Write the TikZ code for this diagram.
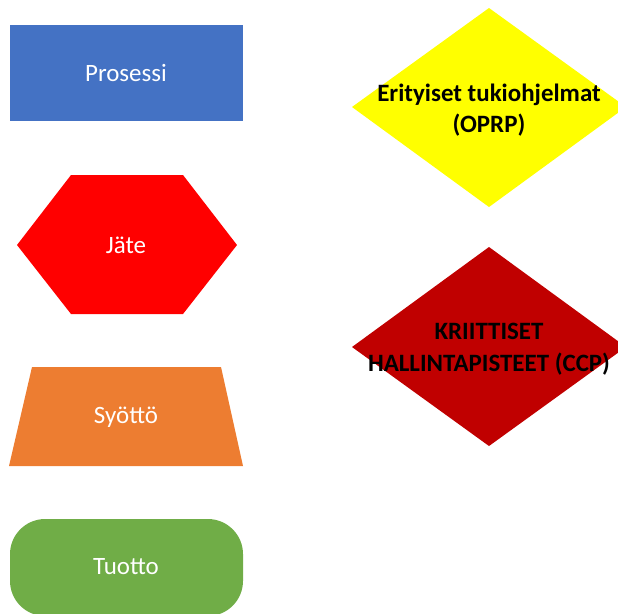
\documentclass[tikz,border=0pt]{standalone}
\usepackage{fontspec}
\setmainfont{Carlito}
\definecolor{prosblue}{HTML}{4472C4}
\definecolor{jatered}{HTML}{FF0000}
\definecolor{syotorange}{HTML}{ED7D31}
\definecolor{tuotgreen}{HTML}{70AD47}
\definecolor{oprpyellow}{HTML}{FFFF00}
\definecolor{ccpred}{HTML}{C00000}
\begin{document}
\begin{tikzpicture}[
        x=0.02cm, y=-0.02cm,
        label/.style={
            font=\fontsize{14.2}{18}\selectfont,
            text=white,
            align=center,
            inner sep=0pt
        },
        boldlabel/.style={
            label,
            text=black,
            font=\fontsize{14.2}{18}\selectfont\bfseries
        }
    ]
    \useasboundingbox (0,0) rectangle (618,613);
    \clip (0,0) rectangle (618,613);

    % Left column shapes
    \fill[prosblue] (10,25) rectangle (243,121);
    \fill[jatered] (17,245) -- (71,175) -- (183,175) -- (237,245) -- (183,314) -- (71,314) -- cycle;
    \fill[syotorange] (32,367) -- (221,367) -- (243,466) -- (9,466) -- cycle;
    \fill[tuotgreen, rounded corners=20] (10,519) rectangle (243,616);

    % Right column diamonds
    \fill[oprpyellow] (489,8) -- (626,107) -- (489,207) -- (352,107) -- cycle;
    \fill[ccpred] (489,247) -- (626,347) -- (489,446) -- (352,347) -- cycle;

    % Labels
    \node[label] (prosessi) at (126,73) {Prosessi};
    \node[label] (jate) at (126,245) {Jäte};
    \node[label] (syotto) at (126,417) {Syöttö};
    \node[label] (tuotto) at (126,567) {Tuotto};
    \node[boldlabel] (oprp) at (489,110) {Erityiset tukiohjelmat\\(OPRP)};
    \node[boldlabel] (ccp) at (489,349) {KRIITTISET\\HALLINTAPISTEET (CCP)};

\end{tikzpicture}
\end{document}
